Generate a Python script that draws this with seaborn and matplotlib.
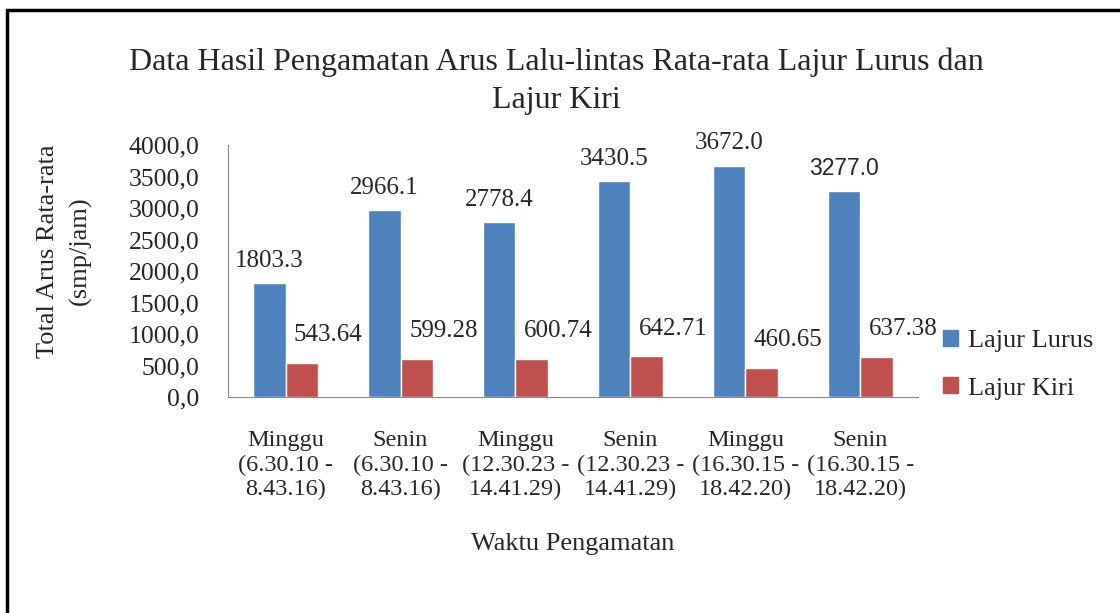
import matplotlib.pyplot as plt
import matplotlib.patches as mpatches
import numpy as np
import pandas as pd
import seaborn as sns

# Data dari grafik
waktu = [
    "Minggu\n(6.30.10 -\n8.43.16)",
    "Senin\n(6.30.10 -\n8.43.16)",
    "Minggu\n(12.30.23 -\n14.41.29)",
    "Senin\n(12.30.23 -\n14.41.29)",
    "Minggu\n(16.30.15 -\n18.42.20)",
    "Senin\n(16.30.15 -\n18.42.20)",
]
lajur_lurus = [1803.3, 2966.1, 2778.4, 3430.5, 3672.0, 3277.0]
lajur_kiri = [543.64, 599.28, 600.74, 642.71, 460.65, 637.38]
label_lurus = ["1803.3", "2966.1", "2778.4", "3430.5", "3672.0", "3277.0"]
label_kiri = ["543.64", "599.28", "600.74", "642.71", "460.65", "637.38"]

df = pd.DataFrame({
    "Waktu": waktu * 2,
    "Nilai": lajur_lurus + lajur_kiri,
    "Lajur": ["Lajur Lurus"] * 6 + ["Lajur Kiri"] * 6,
})

sns.set_style("white")
plt.rcParams["font.family"] = ["Liberation Serif", "DejaVu Serif"]

fig = plt.figure(figsize=(11.2, 6.13), dpi=100)
ax = fig.add_axes([0.2036, 0.3524, 0.616, 0.4111])

sns.barplot(data=df, x="Waktu", y="Nilai", hue="Lajur",
            palette=["#4F81BD", "#C0504D"], width=0.57, gap=0,
            saturation=1, ax=ax, legend=False)

ax.set_ylim(0, 4000)
ax.set_xlim(-0.5, 5.5)
yt = np.arange(0, 4001, 500)
ax.set_yticks(yt)
ax.set_yticklabels([f"{v:.1f}".replace(".", ",") for v in yt], fontsize=18.5)
ax.set_xticks(np.arange(-0.5, 6, 1), minor=True)
ax.tick_params(axis="x", which="major", length=0, labelsize=17.5, pad=24)
for lbl in ax.get_xticklabels():
    lbl.set_linespacing(1.2)
ax.tick_params(axis="x", which="minor", length=6.5, color="#888888", direction="out")
ax.tick_params(axis="y", length=6.5, color="#888888", direction="out", pad=14)
for s in ["top", "right"]:
    ax.spines[s].set_visible(False)
for s in ["left", "bottom"]:
    ax.spines[s].set_color("#888888")

ax.set_xlabel("Waktu Pengamatan", fontsize=19)
ax.xaxis.set_label_coords(0.5, -0.54)
ax.set_ylabel("Total Arus Rata-rata\n(smp/jam)", fontsize=19, linespacing=1.55)
ax.yaxis.set_label_coords(-0.198, 0.58)

fig.text(0.497, 0.868, "Data Hasil Pengamatan Arus Lalu-lintas Rata-rata Lajur Lurus dan\nLajur Kiri",
         ha="center", va="center", fontsize=23, linespacing=1.4)

# Label nilai
blue_bars = ax.containers[0]
red_bars = ax.containers[1]
for i, p in enumerate(blue_bars):
    fam = ["Liberation Sans"] if i == 5 else ["Liberation Serif"]
    ax.annotate(label_lurus[i], (p.get_x() + p.get_width() / 2, p.get_height()),
                xytext=(0, 16), textcoords="offset points", ha="center",
                va="center", fontsize=18 if i != 5 else 16.5, family=fam)
for i, p in enumerate(red_bars):
    ax.annotate(label_kiri[i], (p.get_x() + p.get_width() / 2, p.get_height()),
                xytext=(19, 20), textcoords="offset points", ha="center",
                va="center", fontsize=18)

handles = [mpatches.Patch(color="#4F81BD", label="Lajur Lurus"),
           mpatches.Patch(color="#C0504D", label="Lajur Kiri")]
fig.legend(handles=handles, loc="center left", bbox_to_anchor=(0.821, 0.405),
           frameon=False, fontsize=19, handlelength=0.55, handleheight=0.55,
           handletextpad=0.4, labelspacing=0.95)

# Bingkai luar
fig.patches.append(mpatches.Rectangle((0.0065, -0.05), 1.1, 1.034, transform=fig.transFigure,
                                      fill=False, edgecolor="black", linewidth=2.5))

plt.savefig("out.png", dpi=100)
plt.close()
